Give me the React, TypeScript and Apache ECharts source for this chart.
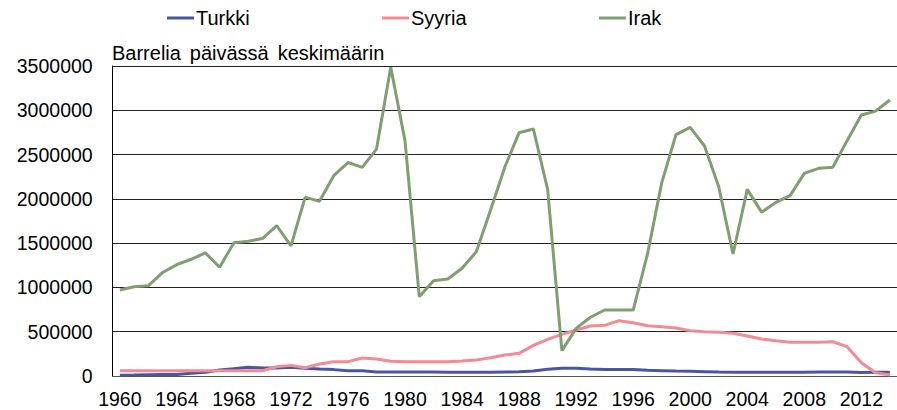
import React, { useEffect, useRef } from "react";
import * as echarts from "echarts";

const years: string[] = [];
for (let y = 1960; y <= 2014; y++) years.push(String(y));

const turkki = [
  8000, 10000, 14000, 18000, 18000, 30000, 42000, 68000, 83000, 98000,
  90000, 90000, 98000, 87000, 79000, 72000, 60000, 60000, 45000, 45000,
  45000, 45000, 45000, 42000, 42000, 42000, 42000, 45000, 48000, 56000,
  75000, 87000, 87000, 79000, 72000, 72000, 72000, 64000, 60000, 56000,
  53000, 49000, 45000, 42000, 42000, 42000, 42000, 42000, 42000, 45000,
  45000, 45000, 40000, 42000, 42000,
];

const syyria = [
  60000, 60000, 60000, 60000, 60000, 60000, 60000, 60000, 60000, 60000,
  60000, 105000, 120000, 94000, 135000, 162000, 162000, 203000, 192000, 166000,
  162000, 162000, 162000, 162000, 168000, 180000, 205000, 237000, 256000, 346000,
  414000, 470000, 519000, 565000, 572000, 625000, 602000, 568000, 557000, 542000,
  512000, 500000, 493000, 482000, 452000, 418000, 399000, 380000, 380000, 380000,
  387000, 331000, 150000, 37000, 11000,
];

const irak = [
  971000, 1008000, 1020000, 1168000, 1258000, 1318000, 1390000, 1228000, 1505000, 1522000,
  1552000, 1698000, 1470000, 2020000, 1972000, 2262000, 2410000, 2356000, 2562000, 3485000,
  2655000, 895000, 1076000, 1095000, 1216000, 1402000, 1875000, 2360000, 2747000, 2789000,
  2107000, 286000, 538000, 663000, 745000, 745000, 745000, 1375000, 2180000, 2725000,
  2807000, 2597000, 2137000, 1377000, 2107000, 1850000, 1960000, 2036000, 2288000, 2345000,
  2356000, 2657000, 2947000, 2990000, 3116000,
];

const seriesNames = ["Turkki", "Syyria", "Irak"];
const colors = ["#4A55A2", "#F28B93", "#809F70"];
const titleText = "Barrelia\u2006 päivässä\u2006 keskimäärin";

const FONT = "'Liberation Sans', Arial, sans-serif";

export default function App() {
  const ref = useRef<HTMLDivElement>(null);
  useEffect(() => {
    if (!ref.current) return;
    const chart = echarts.init(ref.current, null, { renderer: "svg" });
    const legendLefts = [167, 382, 599];
    chart.setOption({
      animation: false,
      textStyle: { fontFamily: FONT, color: "#000" },
      legend: seriesNames.map((n, i) => ({
        data: [n],
        left: legendLefts[i],
        top: 8,
        icon: "rect",
        itemWidth: 27,
        itemHeight: 3,
        padding: 0,
        textStyle: { fontFamily: FONT, fontSize: 20, color: "#000", padding: [0, 0, 0, -3] },
      })),
      graphic: [
        {
          type: "text",
          left: 112,
          top: 43,
          style: { text: titleText, font: `20px ${FONT}`, fill: "#000" },
        },
      ],
      grid: { left: 112.7, right: -5.5, top: 66, bottom: 34, containLabel: false },
      xAxis: {
        type: "category",
        data: years,
        boundaryGap: true,
        axisLine: { lineStyle: { color: "#555", width: 1 } },
        axisTick: { show: false },
        axisLabel: { interval: 3, fontSize: 19.5, color: "#000", fontFamily: FONT, margin: 13 },
      },
      yAxis: {
        type: "value",
        min: 0,
        max: 3500000,
        interval: 500000,
        axisLine: { show: true, lineStyle: { color: "#000", width: 1 } },
        axisTick: { show: false },
        axisLabel: {
          fontSize: 19.5,
          color: "#000",
          fontFamily: FONT,
          margin: 20,
          formatter: (v: number) => String(v),
        },
        splitLine: { lineStyle: { color: "#222", width: 1 } },
      },
      series: seriesNames.map((n, i) => ({
        name: n,
        type: "line",
        data: [turkki, syyria, irak][i],
        showSymbol: false,
        symbol: "none",
        lineStyle: { color: colors[i], width: 3 },
        itemStyle: { color: colors[i] },
        z: 2 + i,
      })),
    });
    return () => chart.dispose();
  }, []);
  return (
    <div
      ref={ref}
      style={{ position: "fixed", left: 0, top: 0, width: 897, height: 410, background: "#fff" }}
    />
  );
}
